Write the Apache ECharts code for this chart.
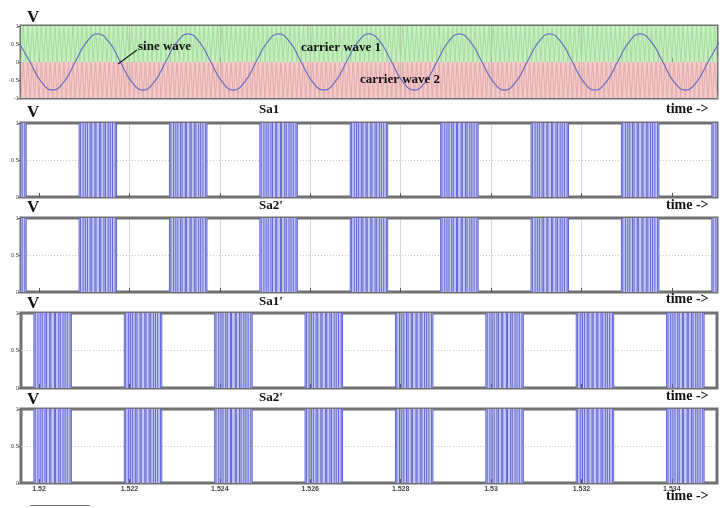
<!DOCTYPE html>
<html><head><meta charset="utf-8">
<script src="https://cdn.jsdelivr.net/npm/echarts@6/dist/echarts.min.js"></script>
<style>html,body{margin:0;padding:0;background:#fff}#c{width:723px;height:508px}</style>
</head><body><div id="c"></div>
<script>
// ---- data ----
const timeRange = [1.5196, 1.535];
const timeTicks = [1.52, 1.522, 1.524, 1.526, 1.528, 1.53, 1.532, 1.534];
const timeTickLabels = ['1.52', '1.522', '1.524', '1.526', '1.528', '1.53', '1.532', '1.534'];

// sine wave samples, one every 1/8 period (0.25 ms), starting at 1.51955 s
const sineStart = 1.51955, sineStep = 0.00025;
const sineValues = [0.55, 0, -0.55, -0.78, -0.55, 0, 0.55,
  0.78, 0.55, 0, -0.55, -0.78, -0.55, 0, 0.55,
  0.78, 0.55, 0, -0.55, -0.78, -0.55, 0, 0.55,
  0.78, 0.55, 0, -0.55, -0.78, -0.55, 0, 0.55,
  0.78, 0.55, 0, -0.55, -0.78, -0.55, 0, 0.55,
  0.78, 0.55, 0, -0.55, -0.78, -0.55, 0, 0.55,
  0.78, 0.55, 0, -0.55, -0.78, -0.55, 0, 0.55,
  0.78, 0.55, 0, -0.55, -0.78, -0.55, 0, 0.55];

// triangular carriers, vertex every 0.05 ms starting at 1.5196 s
const carrierStart = 1.5196, carrierStep = 0.00005;
const carrier1Values = [
0,1,0,1,0,1,0,1,0,1,0,1,0,1,0,1,0,1,0,1,
0,1,0,1,0,1,0,1,0,1,0,1,0,1,0,1,0,1,0,1,
0,1,0,1,0,1,0,1,0,1,0,1,0,1,0,1,0,1,0,1,
0,1,0,1,0,1,0,1,0,1,0,1,0,1,0,1,0,1,0,1,
0,1,0,1,0,1,0,1,0,1,0,1,0,1,0,1,0,1,0,1,
0,1,0,1,0,1,0,1,0,1,0,1,0,1,0,1,0,1,0,1,
0,1,0,1,0,1,0,1,0,1,0,1,0,1,0,1,0,1,0,1,
0,1,0,1,0,1,0,1,0,1,0,1,0,1,0,1,0,1,0,1,
0,1,0,1,0,1,0,1,0,1,0,1,0,1,0,1,0,1,0,1,
0,1,0,1,0,1,0,1,0,1,0,1,0,1,0,1,0,1,0,1,
0,1,0,1,0,1,0,1,0,1,0,1,0,1,0,1,0,1,0,1,
0,1,0,1,0,1,0,1,0,1,0,1,0,1,0,1,0,1,0,1,
0,1,0,1,0,1,0,1,0,1,0,1,0,1,0,1,0,1,0,1,
0,1,0,1,0,1,0,1,0,1,0,1,0,1,0,1,0,1,0,1,
0,1,0,1,0,1,0,1,0,1,0,1,0,1,0,1,0,1,0,1,
0,1,0,1,0,1,0,1,0];
const carrier2Values = [
-1,0,-1,0,-1,0,-1,0,-1,0,-1,0,-1,0,-1,0,-1,0,-1,0,
-1,0,-1,0,-1,0,-1,0,-1,0,-1,0,-1,0,-1,0,-1,0,-1,0,
-1,0,-1,0,-1,0,-1,0,-1,0,-1,0,-1,0,-1,0,-1,0,-1,0,
-1,0,-1,0,-1,0,-1,0,-1,0,-1,0,-1,0,-1,0,-1,0,-1,0,
-1,0,-1,0,-1,0,-1,0,-1,0,-1,0,-1,0,-1,0,-1,0,-1,0,
-1,0,-1,0,-1,0,-1,0,-1,0,-1,0,-1,0,-1,0,-1,0,-1,0,
-1,0,-1,0,-1,0,-1,0,-1,0,-1,0,-1,0,-1,0,-1,0,-1,0,
-1,0,-1,0,-1,0,-1,0,-1,0,-1,0,-1,0,-1,0,-1,0,-1,0,
-1,0,-1,0,-1,0,-1,0,-1,0,-1,0,-1,0,-1,0,-1,0,-1,0,
-1,0,-1,0,-1,0,-1,0,-1,0,-1,0,-1,0,-1,0,-1,0,-1,0,
-1,0,-1,0,-1,0,-1,0,-1,0,-1,0,-1,0,-1,0,-1,0,-1,0,
-1,0,-1,0,-1,0,-1,0,-1,0,-1,0,-1,0,-1,0,-1,0,-1,0,
-1,0,-1,0,-1,0,-1,0,-1,0,-1,0,-1,0,-1,0,-1,0,-1,0,
-1,0,-1,0,-1,0,-1,0,-1,0,-1,0,-1,0,-1,0,-1,0,-1,0,
-1,0,-1,0,-1,0,-1,0,-1,0,-1,0,-1,0,-1,0,-1,0,-1,0,
-1,0,-1,0,-1,0,-1,0,-1];

// gate pulses: on-intervals (s) relative to the centre of each pulse group
const pulseOffsets = [[-0.000415, -0.000385], [-0.000325, -0.000275], [-0.00023, -0.00017],
  [-0.000135, -0.000065], [-0.00004, 0.00004], [0.000065, 0.000135], [0.00017, 0.00023],
  [0.000275, 0.000325], [0.000385, 0.000415]];
// group centres (s) for each gate signal
const sa1Centres  = [1.5193, 1.5213, 1.5233, 1.5253, 1.5273, 1.5293, 1.5313, 1.5333, 1.5353];
const sa2Centres  = [1.5193, 1.5213, 1.5233, 1.5253, 1.5273, 1.5293, 1.5313, 1.5333, 1.5353];
const sa1pCentres = [1.5203, 1.5223, 1.5243, 1.5263, 1.5283, 1.5303, 1.5323, 1.5343];
const sa2pCentres = [1.5203, 1.5223, 1.5243, 1.5263, 1.5283, 1.5303, 1.5323, 1.5343];
const panelNames = ['', 'Sa1', "Sa2'", "Sa1'", "Sa2'"];

// ---- build ----
const SERIF = '"Liberation Serif", "DejaVu Serif", serif';
const gridTops = [26, 123, 218, 313, 409];
const gridHeights = [72, 74, 74, 75, 74];
const N = gridTops.length;
const grids = gridTops.map((t, i) => ({
  left: 21, right: 6, top: t, height: gridHeights[i],
  show: true, borderColor: '#717171', borderWidth: 3, backgroundColor: '#fff'
}));
const xAxes = gridTops.map((t, i) => ({
  gridIndex: i, type: 'value', min: timeRange[0], max: timeRange[1], splitNumber: 8, z: 3,
  axisLine: { show: false },
  axisTick: { show: true, inside: true, length: 4, customValues: timeTicks, lineStyle: { color: '#555', width: 1 } },
  axisLabel: { show: i === N - 1, customValues: timeTicks, fontSize: 7, fontWeight: 'bold', color: '#444', margin: 3,
    formatter: v => timeTickLabels[timeTicks.findIndex(x => Math.abs(x - v) < 1e-7)] || '' },
  splitLine: { show: true, showMinLine: false, showMaxLine: false, lineStyle: { color: 'rgba(150,145,110,0.35)', width: 1 } }
}));
const yAxes = gridTops.map((t, i) => ({
  gridIndex: i, type: 'value', min: i === 0 ? -1 : 0, max: 1, interval: 0.5,
  axisLine: { show: false },
  axisTick: { show: true, length: 3, lineStyle: { color: '#666' } },
  axisLabel: { fontSize: 6, color: '#555', margin: 2 },
  splitLine: { show: true, showMinLine: false, showMaxLine: false, lineStyle: { color: '#c8c8c8', type: [1, 2], width: 1 } }
}));

// only the switching edges are drawn; the flat parts lie on the frame
function pulseEdges(centres) {
  const d = [];
  centres.forEach(c => pulseOffsets.forEach(([a, b]) => {
    d.push([c + a, 0], [c + a, 1], [c + a, '-'], [c + b, 1], [c + b, 0], [c + b, '-']);
  }));
  return d;
}
function pulseSeries(idx, centres) {
  return {
    type: 'line', xAxisIndex: idx, yAxisIndex: idx, data: pulseEdges(centres), symbol: 'none',
    connectNulls: false, lineStyle: { color: '#6468d4', width: 1 },
    markArea: { silent: true, itemStyle: { color: '#c4c7f0' },
      data: centres.map(c => [{ xAxis: c + pulseOffsets[0][0] }, { xAxis: c + pulseOffsets[pulseOffsets.length - 1][1] }]) },
    animation: false
  };
}

const series = [
  { type: 'line', xAxisIndex: 0, yAxisIndex: 0, symbol: 'none', animation: false,
    data: carrier1Values.map((v, i) => [carrierStart + i * carrierStep, v]),
    lineStyle: { color: '#a3dd9c', width: 1 },
    markArea: { silent: true, itemStyle: { color: '#c8efc2' }, data: [[{ yAxis: 0 }, { yAxis: 1 }]] } },
  { type: 'line', xAxisIndex: 0, yAxisIndex: 0, symbol: 'none', animation: false,
    data: carrier2Values.map((v, i) => [carrierStart + i * carrierStep, v]),
    lineStyle: { color: '#e6abab', width: 1 },
    markArea: { silent: true, itemStyle: { color: '#f2cbcb' }, data: [[{ yAxis: -1 }, { yAxis: 0 }]] } },
  { type: 'line', xAxisIndex: 0, yAxisIndex: 0, symbol: 'none', animation: false, smooth: 0.5, z: 5,
    data: sineValues.map((v, i) => [sineStart + i * sineStep, v]),
    lineStyle: { color: '#6a70c4', width: 1.2 } },
  pulseSeries(1, sa1Centres),
  pulseSeries(2, sa2Centres),
  pulseSeries(3, sa1pCentres),
  pulseSeries(4, sa2pCentres)
];

const txt = (text, x, y, size) => ({ type: 'text', x, y, z: 100,
  style: { text, font: `bold ${size}px ${SERIF}`, fill: '#111' } });
const graphic = [];
const vTops = [9, 104, 199, 295, 391];
vTops.forEach(y => graphic.push(txt('V', 27, y, 17)));
const nameTops = [0, 103, 199, 295, 391];
panelNames.forEach((n, i) => { if (n) graphic.push(txt(n, 259, nameTops[i], 13)); });
const timeTops = [102, 198, 292, 389, 489];
timeTops.forEach(y => graphic.push(txt('time ->', 666, y, 14)));
graphic.push(txt('sine wave', 138, 40, 13));
graphic.push(txt('carrier wave 1', 301, 41, 13));
graphic.push(txt('carrier wave 2', 360, 73, 13));
graphic.push({ type: 'line', z: 100, shape: { x1: 118, y1: 64, x2: 137, y2: 50 }, style: { stroke: '#222', lineWidth: 1.3 } });
graphic.push({ type: 'line', z: 100, shape: { x1: 30, y1: 505.5, x2: 90, y2: 505.5 }, style: { stroke: '#777', lineWidth: 1 } });

const chart = echarts.init(document.getElementById('c'), null, { renderer: 'canvas' });
chart.setOption({ animation: false, backgroundColor: '#fff', grid: grids, xAxis: xAxes, yAxis: yAxes, series, graphic });
</script></body></html>
